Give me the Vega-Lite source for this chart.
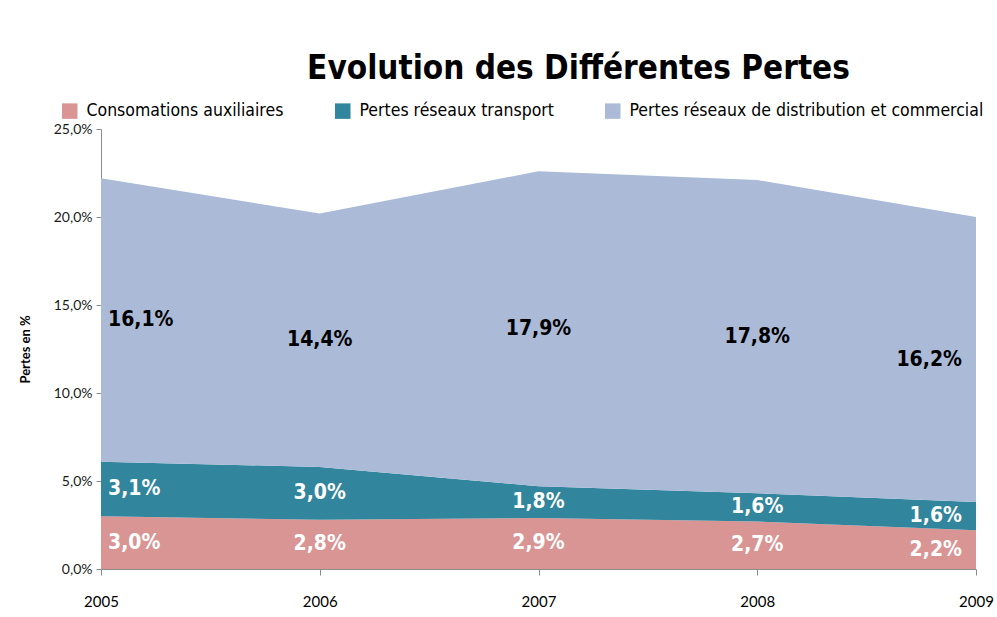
{
  "$schema": "https://vega.github.io/schema/vega-lite/v6.json",
  "width": 875,
  "height": 440,
  "autosize": {"type": "none"},
  "padding": {"left": 101, "top": 129, "right": 21, "bottom": 48},
  "config": {
    "locale": {"number": {"decimal": ",", "thousands": " ", "grouping": [3], "currency": ["", " €"]}},
    "view": {"stroke": null},
    "background": "white"
  },
  "title": {
    "text": "Evolution des Différentes Pertes",
    "font": "DejaVu Sans Condensed, Liberation Sans Narrow, Liberation Sans",
    "fontWeight": "bold",
    "fontSize": 33,
    "color": "black",
    "anchor": "middle",
    "dx": 40,
    "offset": 16
  },
  "data": {
    "values": [
      {"year": 2005, "serie": "Consomations auxiliaires", "rang": 1, "value": 0.030},
      {"year": 2005, "serie": "Pertes réseaux transport", "rang": 2, "value": 0.031},
      {"year": 2005, "serie": "Pertes réseaux de distribution et commercial", "rang": 3, "value": 0.161},
      {"year": 2006, "serie": "Consomations auxiliaires", "rang": 1, "value": 0.028},
      {"year": 2006, "serie": "Pertes réseaux transport", "rang": 2, "value": 0.030},
      {"year": 2006, "serie": "Pertes réseaux de distribution et commercial", "rang": 3, "value": 0.144},
      {"year": 2007, "serie": "Consomations auxiliaires", "rang": 1, "value": 0.029},
      {"year": 2007, "serie": "Pertes réseaux transport", "rang": 2, "value": 0.018},
      {"year": 2007, "serie": "Pertes réseaux de distribution et commercial", "rang": 3, "value": 0.179},
      {"year": 2008, "serie": "Consomations auxiliaires", "rang": 1, "value": 0.027},
      {"year": 2008, "serie": "Pertes réseaux transport", "rang": 2, "value": 0.016},
      {"year": 2008, "serie": "Pertes réseaux de distribution et commercial", "rang": 3, "value": 0.178},
      {"year": 2009, "serie": "Consomations auxiliaires", "rang": 1, "value": 0.022},
      {"year": 2009, "serie": "Pertes réseaux transport", "rang": 2, "value": 0.016},
      {"year": 2009, "serie": "Pertes réseaux de distribution et commercial", "rang": 3, "value": 0.162}
    ]
  },
  "transform": [
    {"stack": "value", "groupby": ["year"], "sort": [{"field": "rang"}], "as": ["v0", "v1"]},
    {"calculate": "(datum.v0 + datum.v1) / 2", "as": "mid"}
  ],
  "encoding": {
    "x": {
      "field": "year",
      "type": "quantitative",
      "scale": {"domain": [2005, 2009], "nice": false, "zero": false},
      "axis": {
        "title": null,
        "values": [2005, 2006, 2007, 2008, 2009],
        "format": "d",
        "grid": false,
        "labelFont": "Lato",
        "labelFontSize": 15,
        "labelColor": "black",
        "labelPadding": 19,
        "labelFlush": false,
        "labelOverlap": false,
        "domainColor": "#8c8c8c",
        "tickColor": "#8c8c8c",
        "tickSize": 6
      }
    }
  },
  "layer": [
    {
      "mark": {"type": "area", "interpolate": "linear", "opacity": 1},
      "encoding": {
        "y": {
          "field": "v1",
          "type": "quantitative",
          "scale": {"domain": [0, 0.25], "nice": false},
          "axis": {
            "title": "Pertes en %",
            "titleFont": "Lato",
            "titleFontSize": 13,
            "titleFontWeight": "bold",
            "titleColor": "black",
            "titlePadding": 21,
            "values": [0, 0.05, 0.1, 0.15, 0.2, 0.25],
            "format": ".1%",
            "grid": false,
            "labelFont": "Lato",
            "labelFontSize": 14,
            "labelColor": "#1a1a1a",
            "labelPadding": 4,
            "labelFlush": false,
            "domainColor": "#8c8c8c",
            "tickColor": "#8c8c8c",
            "tickSize": 5
          }
        },
        "y2": {"field": "v0"},
        "color": {
          "field": "serie",
          "type": "nominal",
          "scale": {
            "domain": ["Consomations auxiliaires", "Pertes réseaux transport", "Pertes réseaux de distribution et commercial"],
            "range": ["#D99594", "#31859C", "#AABAD7"]
          },
          "legend": {
            "orient": "none",
            "legendX": -40,
            "legendY": -27,
            "direction": "horizontal",
            "title": null,
            "symbolType": "square",
            "symbolSize": 240,
            "symbolStrokeWidth": 0,
            "symbolOpacity": 1,
            "labelFont": "DejaVu Sans Condensed, Liberation Sans Narrow, Liberation Sans",
            "labelFontSize": 17.5,
            "labelColor": "black",
            "labelLimit": 500,
            "columnPadding": 50,
            "labelOffset": 8
          }
        }
      }
    },
    {
      "mark": {
        "type": "text",
        "font": "DejaVu Sans Condensed, Liberation Sans Narrow, Liberation Sans",
        "fontWeight": "bold",
        "fontSize": 21,
        "baseline": "middle",
        "align": {"expr": "datum.year == 2005 ? 'left' : (datum.year == 2009 ? 'right' : 'center')"},
        "dx": {"expr": "datum.year == 2005 ? 7 : (datum.year == 2009 ? -14 : 0)"}
      },
      "encoding": {
        "y": {"field": "mid", "type": "quantitative"},
        "text": {"field": "value", "type": "quantitative", "format": ".1%"},
        "color": {
          "condition": {"test": "datum.rang == 3", "value": "black"},
          "value": "white"
        }
      }
    }
  ]
}
